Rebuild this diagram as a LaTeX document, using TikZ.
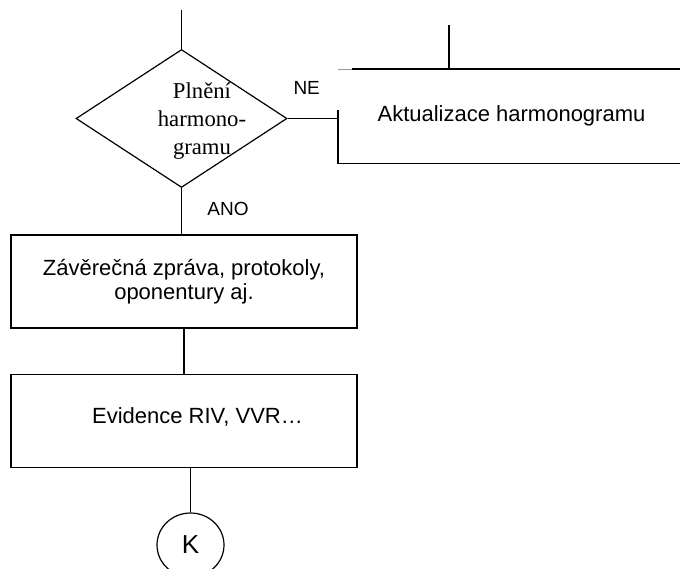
\documentclass[tikz,border=0pt]{standalone}
\usepackage{fontspec}
\setmainfont{Liberation Sans}
\newfontfamily\plnenifont{Liberation Serif}
\usepackage{tikz}
\usetikzlibrary{shapes.geometric,calc}
\tikzset{
  procbox/.style={draw, minimum width=346pt, minimum height=93pt, inner sep=2pt, align=center, font=\fontsize{22}{24}\selectfont},
  decision/.style={draw, diamond, minimum width=211pt, minimum height=138pt, inner sep=0pt},
  branchlabel/.style={inner sep=0pt, font=\fontsize{19}{21}\selectfont},
  termnode/.style={draw, ellipse, minimum width=67pt, minimum height=64pt, inner sep=0pt, font=\fontsize{26}{28}\selectfont},
  flow/.style={line width=1.2pt}
}

\begin{document}
\begin{tikzpicture}[x=1pt, y=-1pt, line width=1.2pt]
  \useasboundingbox (0,0) rectangle (680,568);

  \coordinate (vstup) at (181.5,10);
  \coordinate (vstupakt) at (449,25);

  \node[decision, label={[xshift=20.5pt, yshift=-2.5pt, align=center, font=\plnenifont\fontsize{22.7}{28.3}\selectfont]center:Plnění\\harmono-\\gramu}] (plneni) at (181.5,118.5) {};

  \node[procbox, draw=none] (aktual) at (511.5,116) {Aktualizace harmonogramu};

  \node[procbox] (zprava) at (184,281.5) {Závěrečná zpráva, protokoly,\\oponentury aj.};
  \node[procbox, label={[xshift=13.5pt, yshift=4.5pt, font=\fontsize{22}{24}\selectfont]center:Evidence RIV, VVR…}] (evidence) at (184,421) {};

  \node[termnode] (konec) at (190.5,545) {K};

  \node[branchlabel] (ne) at (306.7,88.3) {NE};
  \node[branchlabel] (ano) at (228,209) {ANO};

  % open box round the update step
  \draw[thin, black!40] (aktual.north west) -- ++(14,0);
  \draw ($(aktual.north west)+(14,0)$) -- (aktual.north east);
  \draw ($(aktual.west)+(0,-6)$) -- (aktual.south west) -- (aktual.south east);

  \draw[flow] (vstup) -- (plneni.north);
  \draw[flow] (vstupakt) -- (vstupakt |- aktual.north);
  \draw[flow] (plneni.east) -- (plneni.east -| aktual.west);
  \draw[flow] (plneni.south) -- (plneni.south |- zprava.north);
  \draw[flow] (zprava.south) -- (evidence.north);
  \draw[flow] (konec.north |- evidence.south) -- (konec.north);
\end{tikzpicture}
\end{document}
